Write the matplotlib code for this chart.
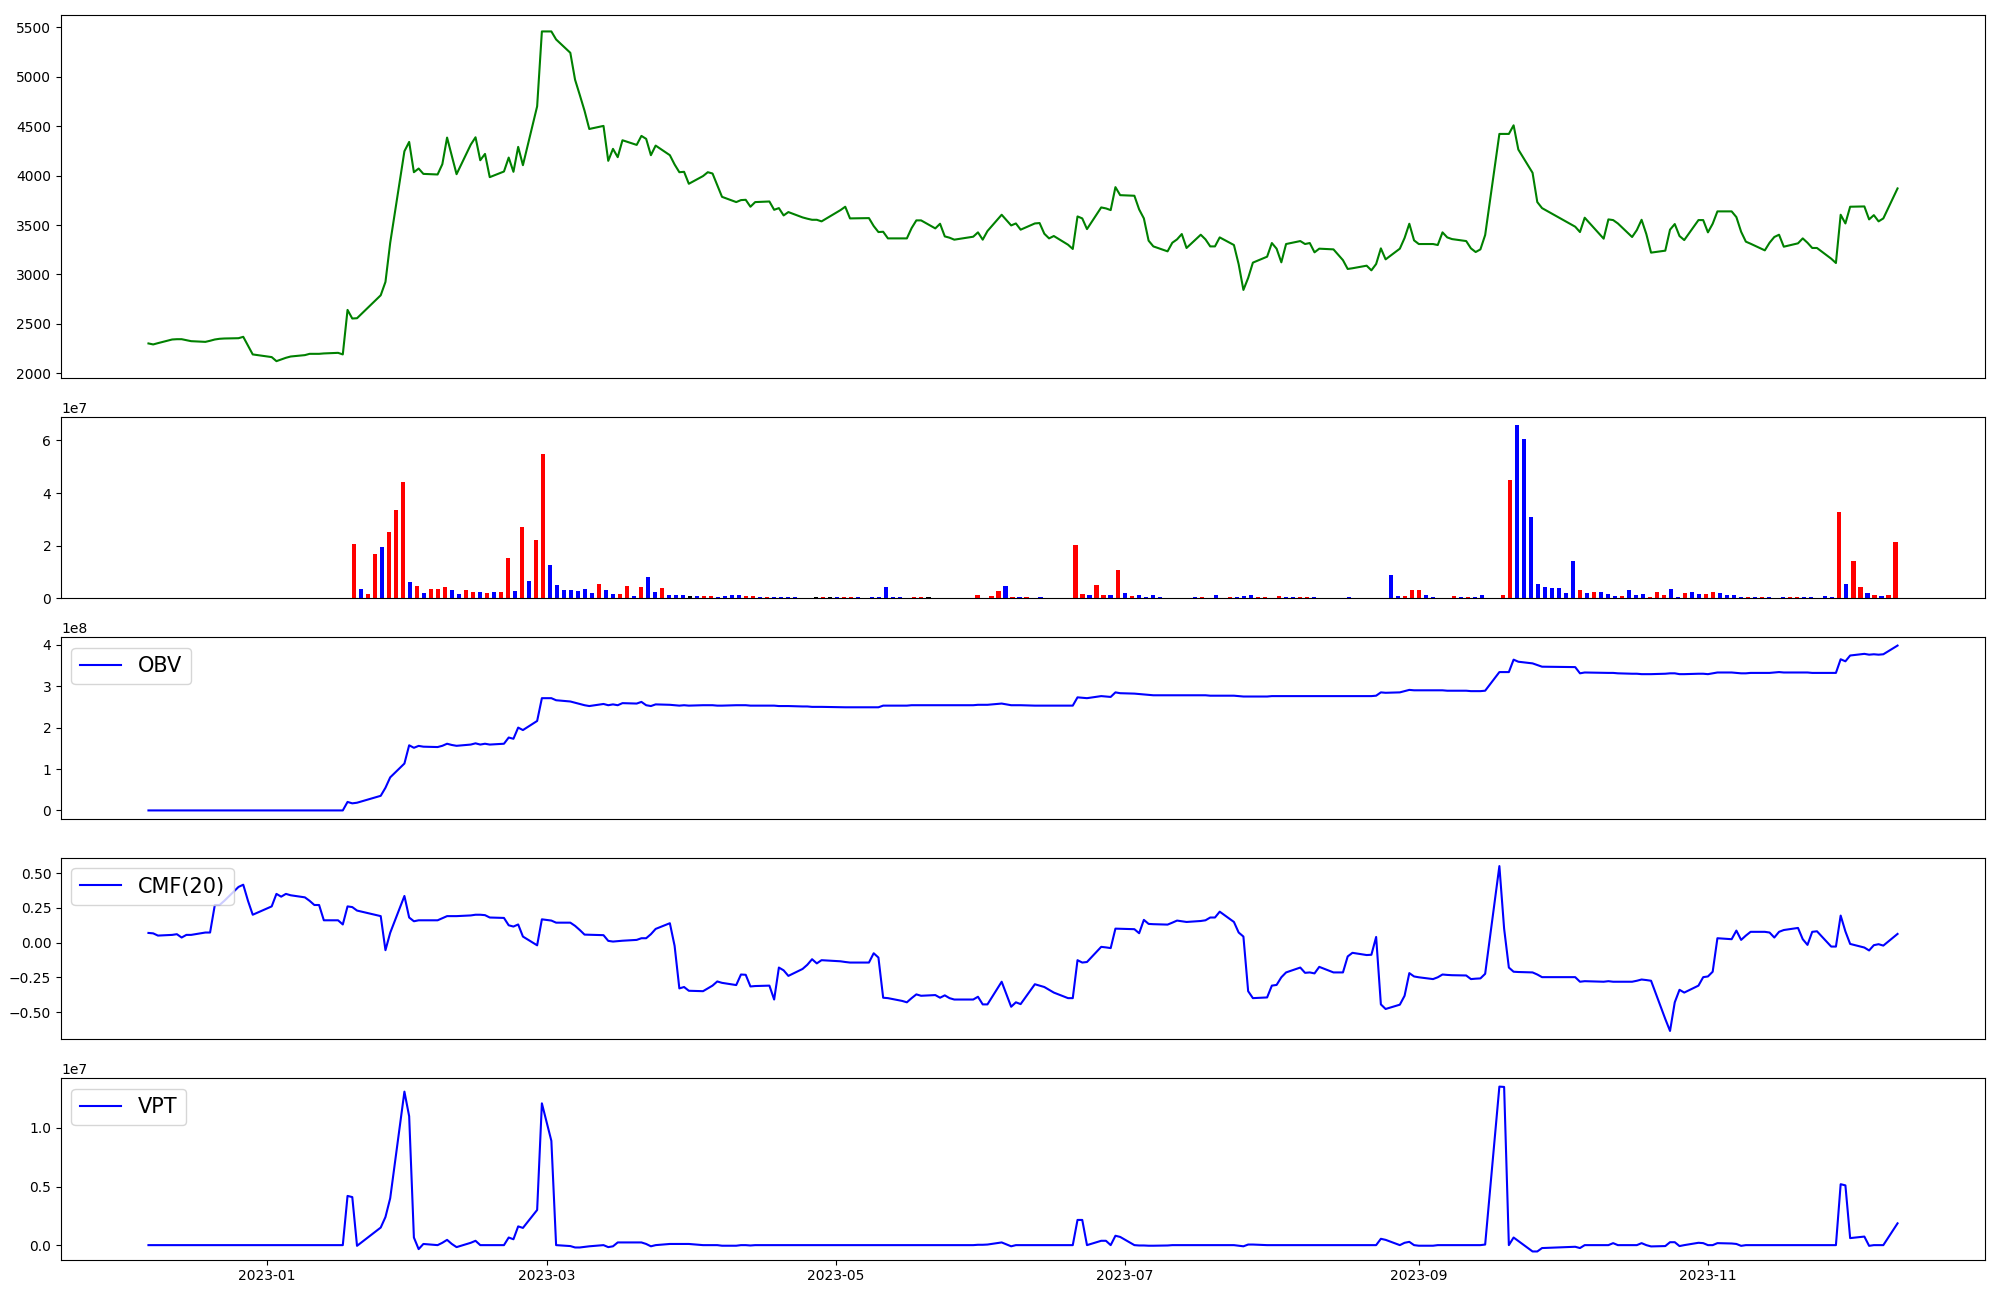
import pandas as pd
import matplotlib
matplotlib.use('Agg')
import matplotlib.pyplot as plt
import matplotlib.dates as mdates

# KRX trading days, 2022-12-07 .. 2023-12-11
holidays = ['2022-12-30', '2023-01-23', '2023-01-24', '2023-03-01', '2023-05-01',
            '2023-05-05', '2023-05-29', '2023-06-06', '2023-08-15', '2023-09-28',
            '2023-09-29', '2023-10-02', '2023-10-03', '2023-10-09']
dates = pd.bdate_range('2022-12-07', '2023-12-11').difference(pd.to_datetime(holidays))

close = [
    2303, 2293, 2306, 2343, 2346, 2346, 2336, 2326, 2319, 2330,
    2343, 2350, 2353, 2356, 2370, 2280, 2192, 2165, 2124, 2141,
    2158, 2171, 2185, 2198, 2198, 2198, 2202, 2208, 2192, 2642,
    2555, 2558, 2790, 2925, 3320, 4246, 4340, 4034, 4071, 4017,
    4011, 4115, 4384, 4199, 4014, 4313, 4387, 4155, 4219, 3984,
    4041, 4182, 4038, 4290, 4105, 4700, 5457, 5457, 5376, 5241,
    4969, 4814, 4655, 4471, 4502, 4149, 4270, 4186, 4357, 4310,
    4401, 4371, 4206, 4303, 4206, 4112, 4034, 4038, 3917, 3995,
    4034, 4021, 3903, 3785, 3732, 3752, 3755, 3685, 3732, 3738,
    3654, 3671, 3597, 3631, 3577, 3564, 3553, 3553, 3537, 3651,
    3685, 3567, 3570, 3490, 3429, 3432, 3365, 3365, 3365, 3469,
    3547, 3547, 3466, 3513, 3385, 3372, 3352, 3382, 3426, 3352,
    3439, 3604, 3496, 3516, 3453, 3516, 3520, 3412, 3365, 3389,
    3301, 3258, 3587, 3567, 3459, 3678, 3668, 3651, 3883, 3802,
    3796, 3658, 3567, 3342, 3284, 3234, 3321, 3355, 3409, 3268,
    3402, 3355, 3284, 3284, 3375, 3298, 3103, 2844, 2965, 3120,
    3180, 3318, 3261, 3123, 3308, 3338, 3308, 3318, 3224, 3261,
    3254, 3145, 3056, 3063, 3089, 3042, 3106, 3264, 3153, 3261,
    3369, 3513, 3345, 3308, 3308, 3298, 3426, 3375, 3358, 3338,
    3264, 3227, 3254, 3399, 4421, 4421, 4421, 4508, 4263, 4028,
    3732, 3671, 3483, 3429, 3574, 3362, 3557, 3550, 3516, 3379,
    3449, 3553, 3409, 3221, 3241, 3453, 3510, 3389, 3348, 3550,
    3550, 3426, 3513, 3638, 3638, 3580, 3432, 3332, 3311, 3244,
    3321, 3379, 3402, 3281, 3315, 3365, 3321, 3268, 3268, 3160,
    3116, 3604, 3516, 3685, 3688, 3557, 3600, 3537, 3567, 3870,
]

# volume in units of 1e7
volume = [0] * 29 + [
    2.05, 0.34, 0.15, 1.67, 1.94, 2.51, 3.34, 4.41, 0.61, 0.46, 0.19,
    0.34, 0.34, 0.42, 0.30, 0.15, 0.30, 0.23, 0.23, 0.19, 0.23,
    0.23, 1.52, 0.27, 2.70, 0.65, 2.20, 5.47, 1.25, 0.49, 0.30,
    0.30, 0.27, 0.34, 0.19, 0.53, 0.30, 0.15, 0.15, 0.46, 0.08,
    0.42, 0.80, 0.23, 0.38, 0.11, 0.11, 0.11, 0.08, 0.08, 0.08,
    0.08, 0.04, 0.08, 0.11, 0.11, 0.08, 0.08, 0.06, 0.06, 0.04,
    0.04, 0.04, 0.04, 0, 0, 0.04, 0.04, 0.04, 0.04, 0.04,
    0.04, 0.04, 0, 0.04, 0.04, 0.42, 0.04, 0.04, 0, 0.04,
    0.04, 0.04, 0, 0, 0, 0, 0, 0, 0.11, 0,
    0.08, 0.26, 0.46, 0.04, 0.04, 0.04, 0, 0.04, 0, 0,
    0, 0, 2.01, 0.15, 0.11, 0.49, 0.11, 0.11, 1.06, 0.19,
    0.08, 0.11, 0.04, 0.11, 0.04, 0, 0, 0, 0, 0.04,
    0.04, 0, 0.11, 0, 0.04, 0.04, 0.08, 0.11, 0.04, 0.04,
    0, 0.08, 0.04, 0.04, 0.04, 0.04, 0.04, 0, 0, 0,
    0, 0.04, 0, 0, 0, 0, 0, 0.87, 0.08, 0.08,
    0.30, 0.30, 0.11, 0.04, 0, 0, 0.08, 0.04, 0.04, 0.04,
    0.11, 0, 0, 0.11, 4.48, 6.57, 6.04, 3.08, 0.53, 0.42,
    0.38, 0.38, 0.19, 1.41, 0.30, 0.19, 0.23, 0.23, 0.15, 0.08,
    0.08, 0.30, 0.11, 0.15, 0.04, 0.23, 0.11, 0.34, 0.04, 0.19,
    0.23, 0.15, 0.15, 0.23, 0.19, 0.11, 0.11, 0.04, 0.04, 0.04,
    0.04, 0.04, 0, 0.04, 0.04, 0.04, 0.04, 0.04, 0, 0.08,
    0.04, 3.27, 0.53, 1.41, 0.42, 0.19, 0.11, 0.08, 0.11, 2.13,
]

# bar colour per day: r = up candle, b = down candle, k = unchanged
bar_codes = ('k' * 29
             + 'rbrrbrrrbrb'
             + 'rrrbbrrbrb' + 'rrbrbrrbbb' + 'bbbbrbbrrb' + 'rbbrbbbkbr'
             + 'rbbbbrrbrb' + 'bbbkkkrkbr' + 'rbkbbbbbkr' + 'rkkkkkkkrk'
             + 'rrbrbrkbkk' + 'kkrrbrrbrb' + 'rbbbbkkkkb' + 'rkbkrbbbrr'
             + 'krbbrrbkkk' + 'kbkkkkkbbr' + 'rrbbkkrbrb' + 'bkkrrbbbbb'
             + 'bbbbrbrbbb' + 'rbbbrrrbbr' + 'bbrrbbbbrb' + 'rbkbrrbbkb'
             + 'brbrrbrbrr')

# OBV in units of 1e8
obv = [0] * 29 + [
    0.205, 0.171, 0.186, 0.353, 0.547, 0.798, 1.132, 1.573, 1.512, 1.558, 1.539,
    1.53, 1.56, 1.61, 1.58, 1.56, 1.59, 1.62, 1.59, 1.61, 1.59,
    1.61, 1.76, 1.73, 2.00, 1.94, 2.16, 2.71, 2.71, 2.66, 2.63,
    2.60, 2.57, 2.54, 2.52, 2.57, 2.54, 2.56, 2.54, 2.59, 2.58,
    2.62, 2.54, 2.52, 2.56, 2.55, 2.54, 2.53, 2.54, 2.53, 2.54,
    2.54, 2.54, 2.53, 2.53, 2.54, 2.54, 2.54, 2.53, 2.53, 2.53,
    2.53, 2.52, 2.52, 2.52, 2.51, 2.51, 2.50, 2.50, 2.50, 2.49,
    2.49, 2.49, 2.49, 2.49, 2.49, 2.53, 2.53, 2.53, 2.53, 2.54,
    2.54, 2.54, 2.54, 2.54, 2.54, 2.54, 2.54, 2.54, 2.55, 2.55,
    2.55, 2.58, 2.54, 2.54, 2.54, 2.53, 2.53, 2.53, 2.53, 2.53,
    2.53, 2.53, 2.73, 2.72, 2.71, 2.76, 2.75, 2.74, 2.85, 2.83,
    2.82, 2.81, 2.80, 2.79, 2.78, 2.78, 2.78, 2.78, 2.78, 2.78,
    2.78, 2.78, 2.77, 2.77, 2.77, 2.77, 2.76, 2.75, 2.75, 2.75,
    2.75, 2.76, 2.76, 2.76, 2.76, 2.76, 2.76, 2.76, 2.76, 2.76,
    2.76, 2.76, 2.76, 2.76, 2.76, 2.76, 2.77, 2.85, 2.84, 2.85,
    2.88, 2.91, 2.90, 2.90, 2.90, 2.90, 2.90, 2.89, 2.89, 2.89,
    2.88, 2.88, 2.88, 2.89, 3.34, 3.34, 3.34, 3.64, 3.59, 3.55,
    3.51, 3.47, 3.46, 3.31, 3.33, 3.32, 3.32, 3.32, 3.31, 3.30,
    3.30, 3.29, 3.29, 3.29, 3.30, 3.31, 3.31, 3.29, 3.29, 3.30,
    3.30, 3.29, 3.31, 3.33, 3.33, 3.32, 3.31, 3.31, 3.32, 3.32,
    3.32, 3.33, 3.34, 3.33, 3.33, 3.33, 3.33, 3.32, 3.32, 3.32,
    3.32, 3.65, 3.60, 3.74, 3.78, 3.76, 3.77, 3.76, 3.77, 3.98,
]

cmf = [
    0.069, 0.066, 0.05, 0.055, 0.06, 0.036, 0.055, 0.055, 0.072, 0.072,
    0.27, 0.27, 0.30, 0.40, 0.416, 0.30, 0.20, 0.26, 0.35, 0.33,
    0.35, 0.34, 0.325, 0.30, 0.27, 0.27, 0.16, 0.16, 0.13, 0.26,
    0.255, 0.23, 0.19, -0.055, 0.07, 0.335, 0.18, 0.153, 0.16, 0.16,
    0.16, 0.175, 0.19, 0.19, 0.19, 0.195, 0.20, 0.20, 0.197, 0.18,
    0.177, 0.124, 0.115, 0.13, 0.043, -0.02, 0.167, 0.158, 0.143, 0.143,
    0.12, 0.09, 0.057, 0.056, 0.053, 0.012, 0.007, 0.01, 0.013, 0.019,
    0.031, 0.031, 0.06, 0.098, 0.139, -0.024, -0.33, -0.32, -0.347, -0.35,
    -0.33, -0.31, -0.28, -0.29, -0.306, -0.23, -0.232, -0.316, -0.313, -0.31,
    -0.41, -0.18, -0.20, -0.24, -0.19, -0.16, -0.12, -0.15, -0.127, -0.135,
    -0.14, -0.144, -0.144, -0.077, -0.108, -0.397, -0.40, -0.42, -0.43, -0.40,
    -0.373, -0.383, -0.378, -0.397, -0.38, -0.40, -0.41, -0.41, -0.39, -0.445,
    -0.445, -0.282, -0.462, -0.43, -0.443, -0.30, -0.31, -0.32, -0.34, -0.36,
    -0.40, -0.40, -0.127, -0.144, -0.14, -0.031, -0.035, -0.04, 0.10, 0.099,
    0.096, 0.067, 0.163, 0.134, 0.132, 0.129, 0.143, 0.158, 0.153, 0.148,
    0.155, 0.16, 0.18, 0.18, 0.222, 0.148, 0.072, 0.043, -0.35, -0.40,
    -0.395, -0.31, -0.305, -0.25, -0.215, -0.18, -0.218, -0.215, -0.222, -0.175,
    -0.215, -0.215, -0.10, -0.074, -0.09, -0.088, 0.04, -0.445, -0.478, -0.447,
    -0.383, -0.22, -0.244, -0.25, -0.263, -0.25, -0.23, -0.233, -0.235, -0.237,
    -0.263, -0.26, -0.258, -0.225, 0.55, 0.10, -0.18, -0.21, -0.212, -0.215,
    -0.23, -0.249, -0.249, -0.282, -0.278, -0.282, -0.278, -0.282, -0.282, -0.282,
    -0.275, -0.266, -0.27, -0.275, -0.55, -0.636, -0.43, -0.34, -0.36, -0.31,
    -0.249, -0.244, -0.21, 0.031, 0.024, 0.086, 0.019, 0.05, 0.077, 0.077,
    0.072, 0.036, 0.077, 0.09, 0.105, 0.024, -0.017, 0.077, 0.081, -0.029,
    -0.029, 0.194, 0.08, -0.01, -0.036, -0.057, -0.019, -0.012, -0.022, 0.062,
]

# VPT in units of 1e7
vpt = [0] * 29 + [
    0.42, 0.41, -0.006, 0.15, 0.24, 0.40, 1.31, 1.10, 0.065, -0.034, 0.01,
    0.0, 0.02, 0.045, 0.01, -0.017, 0.02, 0.037, 0.0, 0.0, 0.0,
    0.0, 0.065, 0.05, 0.16, 0.147, 0.30, 1.21, 0.89, 0.0, -0.008,
    -0.02, -0.02, -0.015, -0.01, 0.0, -0.017, -0.01, 0.023, 0.023, 0.023,
    0.023, 0.01, -0.01, 0.0, 0.01, 0.01, 0.01, 0.01, 0.01, 0.0,
    0.0, 0.0, 0.0, -0.005, -0.005, 0.0, 0.0, -0.003, 0.0, 0.0,
    0.0, 0.0, 0.0, 0.0, 0.0, 0.0, 0.0, 0.0, 0.0, 0.0,
    0.0, 0.0, 0.0, 0.0, 0.0, 0.0, 0.0, 0.0, 0.0, 0.0,
    0.0, 0.0, 0.0, 0.0, 0.0, 0.0, 0.0, 0.0, 0.003, 0.003,
    0.005, 0.023, -0.01, 0.0, 0.0, 0.0, 0.0, 0.0, 0.0, 0.0,
    0.0, 0.0, 0.215, 0.215, 0.0, 0.037, 0.037, 0.0, 0.08, 0.07,
    0.0, -0.003, -0.003, -0.005, -0.005, -0.003, 0.0, 0.0, 0.0, 0.0,
    0.0, 0.0, 0.0, 0.0, 0.0, 0.0, -0.005, -0.01, 0.005, 0.005,
    0.0, 0.0, 0.0, 0.0, 0.0, 0.0, 0.0, 0.0, 0.0, 0.0,
    0.0, 0.0, 0.0, 0.0, 0.0, 0.0, 0.0, 0.054, 0.045, 0.0,
    0.02, 0.028, 0.0, -0.005, -0.005, 0.0, 0.0, 0.0, 0.0, 0.0,
    0.0, 0.0, 0.0, 0.005, 1.353, 1.35, 0.0, 0.065, 0.035, -0.054,
    -0.054, -0.025, -0.014, -0.025, 0.0, 0.0, 0.0, 0.017, 0.0, 0.0,
    0.0, 0.017, 0.0, -0.011, -0.008, 0.025, 0.025, -0.008, 0.0, 0.02,
    0.017, 0.0, 0.0, 0.017, 0.014, 0.01, -0.006, 0.0, 0.0, 0.0,
    0.0, 0.0, 0.0, 0.0, 0.0, 0.0, 0.0, 0.0, 0.0, 0.0,
    0.0, 0.52, 0.51, 0.06, 0.073, -0.006, 0.0, 0.0, 0.0, 0.186,
]

color_map = {'r': 'red', 'b': 'blue', 'k': 'black'}
bar_colors = [color_map[c] for c in bar_codes]

fig = plt.figure(figsize=(20, 13), dpi=100)
gs = fig.add_gridspec(5, 1, height_ratios=[2, 1, 1, 1, 1],
                      left=0.0305, right=0.9925, top=0.9885, bottom=0.031, hspace=0.18)
ax1 = fig.add_subplot(gs[0])
ax2 = fig.add_subplot(gs[1])
ax3 = fig.add_subplot(gs[2])
ax4 = fig.add_subplot(gs[3])
ax5 = fig.add_subplot(gs[4])

# price
ax1.plot(dates, close, color='green')
ax1.set_xticks([])

# volume (plotted against the row number)
ax2.bar(range(len(volume)), [v * 1e7 for v in volume], width=0.6, color=bar_colors)
ax2.set_xticks([])

# OBV
ax3.plot(dates, [v * 1e8 for v in obv], color='blue', label='OBV')
ax3.legend(loc='upper left', fontsize=15)
ax3.set_xticks([])

# CMF
ax4.plot(dates, cmf, color='blue', label='CMF(20)')
ax4.legend(loc='upper left', fontsize=15)
ax4.set_xticks([])

# VPT
ax5.plot(dates, [v * 1e7 for v in vpt], color='blue', label='VPT')
ax5.legend(loc='upper left', fontsize=15)
ax5.xaxis.set_major_locator(mdates.MonthLocator(bymonth=[1, 3, 5, 7, 9, 11]))
ax5.xaxis.set_major_formatter(mdates.DateFormatter('%Y-%m'))

fig.savefig('out.png', dpi=100)
